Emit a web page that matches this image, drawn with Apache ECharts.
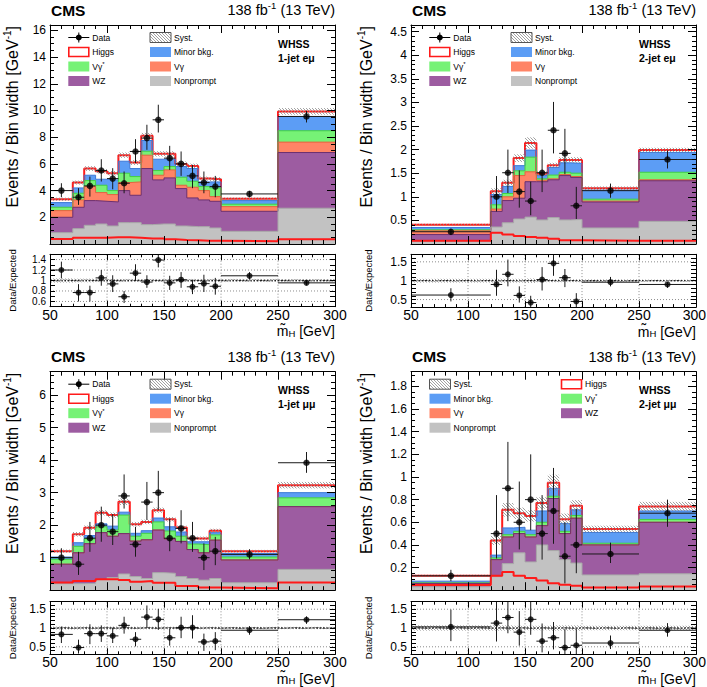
<!DOCTYPE html>
<html><head><meta charset="utf-8">
<script src="https://cdn.jsdelivr.net/npm/echarts@6/dist/echarts.min.js"></script>
<style>html,body{margin:0;padding:0;background:#fff}#c{width:707px;height:687px}</style>
</head><body><div id="c"></div>
<script>
// ---------------- DATA ----------------
const edges1j = [50,70,80,90,100,110,120,130,140,150,160,170,180,190,200,250,300];
const edges2j = [50,120,130,140,150,160,170,180,190,200,250,300];
const xGridLines = [100,150,200,250];

// Panel A: 1-jet e mu
const nonpromptA = [0.85,1.15,1.4,1.5,1.35,1.6,1.6,1.45,1.5,1.5,1.35,1.3,1.3,1.2,0.95,2.68];
const wzA        = [1.15,1.6,1.85,1.7,1.8,2.4,2.05,4.2,3.3,3.45,2.8,2.15,2.0,2.0,1.5,4.17];
const vgA        = [0.5,0.55,1.05,0.65,0.55,0.6,1.0,1.0,0.35,0.6,0.25,0.8,0.7,0.35,0.35,0.78];
const vgsA       = [0.25,0.5,0.45,0.55,0.3,0.7,0.4,0.3,0.35,0.25,0.6,0.45,0.3,0.65,0.18,0.85];
const minorA     = [0.35,0.4,0.4,0.45,0.8,0.9,0.6,0.8,0.85,0.55,0.8,0.95,0.35,0.45,0.27,1.07];
const higgsA     = [0.25,0.4,0.5,0.6,0.5,0.45,0.45,0.35,0.4,0.4,0.2,0.2,0.25,0.2,0.13,0.38];
const higgsLineA = [0.37,0.47,0.47,0.47,0.5,0.5,0.47,0.42,0.42,0.35,0.3,0.28,0.25,0.25,0.2,0.35];
const systA      = [0.12,0.15,0.18,0.17,0.17,0.2,0.18,0.22,0.2,0.2,0.18,0.17,0.15,0.15,0.1,0.25];
const dataA      = [4.0,3.5,4.35,5.5,4.9,4.55,6.93,7.93,9.3,6.43,6.0,5.1,4.6,4.3,3.75,9.55];
const dataHiA    = [4.55,4.18,5.05,6.35,5.68,5.43,7.85,8.93,10.43,7.35,6.93,5.93,5.43,5.1,3.98,9.98];
const dataLoA    = [3.5,2.93,3.55,4.68,4.1,3.8,6.05,7.05,8.35,5.55,5.1,4.18,3.8,3.5,3.5,9.1];
const ratioA     = [1.2,0.77,0.77,1.05,0.935,0.69,1.14,0.97,1.39,0.955,1.015,0.88,0.94,0.89,1.09,0.955];
const ratioHiA   = [1.36,0.93,0.9,1.2,1.1,0.8,1.31,1.1,1.54,1.09,1.16,1.01,1.11,1.05,1.16,1.0];
const ratioLoA   = [1.04,0.6,0.6,0.9,0.78,0.57,0.99,0.86,1.25,0.82,0.86,0.74,0.78,0.73,1.02,0.91];
const ratioSystA = [0.04,0.035,0.035,0.03,0.03,0.03,0.03,0.03,0.03,0.03,0.03,0.03,0.03,0.03,0.03,0.025];
const ratioGridA = [0.6,0.8,1.0,1.2,1.4];

// Panel B: 2-jet e mu
const nonpromptB = [0.06,0.36,0.45,0.53,0.57,0.51,0.56,0.51,0.52,0.34,0.48];
const wzB        = [0.14,0.33,0.47,0.44,0.75,0.81,0.8,0.94,0.89,0.55,0.86];
const vgB        = [0.08,0.05,0.08,0.48,0.21,0.03,0.02,0.02,0.02,0.02,0.02];
const vgsB       = [0.02,0.09,0.07,0.1,0.31,0.03,0.08,0.05,0.07,0.04,0.16];
const minorB     = [0.05,0.22,0.15,0.11,0.15,0.07,0.16,0.2,0.21,0.19,0.42];
const higgsB     = [0.06,0.07,0.08,0.16,0.15,0.04,0.05,0.06,0.07,0.04,0.05];
const higgsLineB = [0.07,0.24,0.2,0.17,0.15,0.13,0.11,0.08,0.08,0.07,0.07];
const systB      = [0.02,0.06,0.06,0.08,0.12,0.05,0.05,0.06,0.06,0.04,0.05];
const dataB      = [0.26,1.0,1.51,1.11,0.91,1.51,2.41,1.92,0.81,1.13,1.79];
const dataHiB    = [0.32,1.44,2.0,1.56,1.32,2.0,3.01,2.44,1.21,1.28,1.98];
const dataLoB    = [0.19,0.69,1.08,0.77,0.61,1.1,1.92,1.48,0.53,0.98,1.6];
const ratioB     = [0.62,0.9,1.17,0.61,0.42,1.03,1.46,1.08,0.45,0.96,0.9];
const ratioHiB   = [0.8,1.29,1.56,0.85,0.6,1.36,1.69,1.31,0.67,1.1,0.96];
const ratioLoB   = [0.45,0.6,0.85,0.42,0.3,0.74,1.13,0.83,0.3,0.85,0.81];
const ratioSystB = [0.05,0.05,0.05,0.05,0.06,0.04,0.04,0.04,0.04,0.035,0.03];
const ratioGridB = [0.5,1.0,1.5];

// Panel C: 1-jet mu mu
const nonpromptC = [0.2,0.2,0.21,0.33,0.39,0.5,0.42,0.36,0.54,0.52,0.42,0.36,0.31,0.36,0.23,0.64];
const wzC        = [0.6,0.95,1.22,1.44,1.27,1.24,1.09,1.19,1.31,1.06,1.08,0.89,0.84,1.18,0.7,1.93];
const vgC        = [0,0,0,0,0,0,0,0,0,0,0,0,0,0,0,0];
const vgsC       = [0.15,0.2,0.15,0.18,0.19,0.57,0.15,0.2,0.25,0.24,0.16,0.17,0.25,0.16,0.09,0.27];
const minorC     = [0.07,0.11,0.1,0.09,0.12,0.09,0.09,0.08,0.12,0.13,0.13,0.07,0.09,0.07,0.11,0.16];
const higgsC     = [0.18,0.26,0.24,0.34,0.34,0.32,0.28,0.27,0.24,0.23,0.14,0.1,0.1,0.06,0.07,0.23];
const higgsLineC = [0.24,0.28,0.28,0.34,0.34,0.31,0.26,0.28,0.23,0.23,0.13,0.13,0.08,0.08,0.06,0.24];
const systC      = [0.05,0.07,0.07,0.08,0.08,0.1,0.07,0.07,0.08,0.07,0.06,0.06,0.06,0.06,0.04,0.1];
const dataC      = [1.0,0.8,1.6,2.0,1.8,2.9,1.41,2.71,3.0,1.6,1.9,1.6,1.0,1.2,1.1,3.92];
const dataHiC    = [1.29,1.18,2.1,2.57,2.34,3.56,1.95,3.33,3.67,2.2,2.46,2.1,1.44,1.64,1.26,4.25];
const dataLoC    = [0.72,0.47,1.18,1.49,1.39,2.51,1.03,2.16,2.47,1.2,1.44,1.18,0.62,0.77,0.95,3.61];
const ratioC     = [0.83,0.48,0.85,0.85,0.79,1.07,0.7,1.29,1.23,0.74,1.01,1.01,0.63,0.65,0.94,1.22];
const ratioHiC   = [1.04,0.69,1.1,1.07,1.01,1.3,0.89,1.6,1.51,0.98,1.3,1.34,0.85,0.89,1.05,1.31];
const ratioLoC   = [0.6,0.32,0.57,0.63,0.6,0.85,0.51,1.0,0.95,0.53,0.73,0.72,0.39,0.41,0.82,1.11];
const ratioSystC = [0.04,0.04,0.04,0.04,0.04,0.04,0.035,0.035,0.035,0.035,0.035,0.035,0.035,0.035,0.03,0.03];
const ratioGridC = [0.5,1.0,1.5];

// Panel D: 2-jet mu mu
const nonpromptD = [0.03,0.12,0.235,0.33,0.25,0.4,0.35,0.27,0.24,0.135,0.145];
const wzD        = [0.03,0.15,0.235,0.17,0.22,0.17,0.46,0.23,0.396,0.265,0.455];
const vgD        = [0,0,0,0,0,0,0,0,0,0,0];
const vgsD       = [0.005,0.015,0.02,0.02,0.02,0.03,0.02,0.02,0.024,0.015,0.025];
const minorD     = [0.015,0.025,0.06,0.036,0.04,0.1,0.07,0.07,0.05,0.095,0.075];
const higgsD     = [0.047,0.13,0.16,0.124,0.126,0.07,0.05,0.037,0.035,0.03,0.04];
const higgsLineD = [0.045,0.127,0.16,0.127,0.107,0.085,0.062,0.048,0.04,0.024,0.033];
const systD      = [0.01,0.04,0.06,0.05,0.05,0.05,0.07,0.05,0.05,0.03,0.04];
const dataD      = [0.127,0.5,0.9,0.6,0.8,0.5,0.7,0.3,0.4,0.32,0.68];
const dataHiD    = [0.18,0.84,1.31,0.96,1.2,0.84,1.08,0.6,0.72,0.42,0.8];
const dataLoD    = [0.08,0.28,0.61,0.36,0.53,0.27,0.41,0.06,0.15,0.24,0.56];
const ratioD     = [1.03,1.13,1.28,0.89,1.23,0.65,0.74,0.48,0.54,0.6,0.94];
const ratioHiD   = [1.49,1.9,1.86,1.45,1.84,1.12,1.16,0.97,0.97,0.8,1.13];
const ratioLoD   = [0.65,0.64,0.86,0.53,0.82,0.35,0.43,0.1,0.2,0.44,0.77];
const ratioSystD = [0.07,0.07,0.07,0.06,0.06,0.06,0.07,0.07,0.07,0.06,0.06];
const ratioGridD = [0.5,1.0,1.5];

// legend labels
const legendStd = [['data','Data'],['higgs','Higgs'],['vgs','{a|V\u03b3}{s|*}'],['wz','WZ'],
                   ['syst','Syst.'],['minor','Minor bkg.'],['vg','V\u03b3'],['nonprompt','Nonprompt']];
const legendD   = [['syst','Syst.'],['minor','Minor bkg.'],['vg','V\u03b3'],['nonprompt','Nonprompt'],
                   ['higgs','Higgs'],['vgs','{a|V\u03b3}{s|*}'],['wz','WZ']];

// ---------------- STYLE ----------------
const FONT = "'Liberation Sans', Arial, Helvetica, sans-serif";
const COMP = ['nonprompt','wz','vg','vgs','minor','higgs'];
const FILL = {nonprompt:'#c2c2c2', wz:'#9d5ca1', vg:'#ff8466', vgs:'#76f276', minor:'#5c9df5', higgs:'#ffffff'};
const EDGE = {nonprompt:'#a8a8a8', wz:'#6c3070', vg:'#e2643f', vgs:'#43d043', minor:'#3c78d6', higgs:'#ff1a1a'};

const panels = [
 {left:50, top:25, h:219, rTop:254.3, rH:52.4, ytx:12, rtx:12, edges:edges1j, ymax:16.4, yStep:2, yMinor:4,
  rMin:0.5, rMax:1.5, rStep:0.2, rLab:[0.6,1.4], rGrid:ratioGridA, rFs:10, right:false,
  comps:[nonpromptA,wzA,vgA,vgsA,minorA,higgsA], hLine:higgsLineA, syst:systA, data:dataA, hi:dataHiA, lo:dataLoA,
  ratio:ratioA, rHi:ratioHiA, rLo:ratioLoA, rSyst:ratioSystA, tag:['WHSS','1-jet e\u03bc'], leg:legendStd, legCols:[18.3,100]},
 {left:411, top:25, h:219, rTop:254.3, rH:52.8, ytx:366, rtx:368, edges:edges2j, ymax:4.64, yStep:0.5, yMinor:5,
  rMin:0.3, rMax:1.7, rStep:0.5, rLab:[0.5,1.5], rGrid:ratioGridB, rFs:12, right:true,
  comps:[nonpromptB,wzB,vgB,vgsB,minorB,higgsB], hLine:higgsLineB, syst:systB, data:dataB, hi:dataHiB, lo:dataLoB,
  ratio:ratioB, rHi:ratioHiB, rLo:ratioLoB, rSyst:ratioSystB, tag:['WHSS','2-jet e\u03bc'], leg:legendStd, legCols:[18.3,100]},
 {left:50, top:371.7, h:218.5, rTop:601.7, rH:52.6, ytx:12, rtx:12, edges:edges1j, ymax:6.72, yStep:1, yMinor:5,
  rMin:0.3, rMax:1.7, rStep:0.5, rLab:[0.5,1.5], rGrid:ratioGridC, rFs:12, right:false,
  comps:[nonpromptC,wzC,vgC,vgsC,minorC,higgsC], hLine:higgsLineC, syst:systC, data:dataC, hi:dataHiC, lo:dataLoC,
  ratio:ratioC, rHi:ratioHiC, rLo:ratioLoC, rSyst:ratioSystC, tag:['WHSS','1-jet \u03bc\u03bc'], leg:legendStd, legCols:[18.3,100]},
 {left:411, top:371.7, h:218.5, rTop:601.7, rH:52.6, ytx:366, rtx:368, edges:edges2j, ymax:1.93, yStep:0.2, yMinor:4,
  rMin:0.3, rMax:1.7, rStep:0.5, rLab:[0.5,1.5], rGrid:ratioGridD, rFs:12, right:true,
  comps:[nonpromptD,wzD,vgD,vgsD,minorD,higgsD], hLine:higgsLineD, syst:systD, data:dataD, hi:dataHiD, lo:dataLoD,
  ratio:ratioD, rHi:ratioHiD, rLo:ratioLoD, rSyst:ratioSystD, tag:['WHSS','2-jet \u03bc\u03bc'], leg:legendD, legCols:[18.5,150]}
];

// ---------------- HELPERS ----------------
function hatchSegs(x0,y0,x1,y1,sp){
  if (x1<x0){const t=x0;x0=x1;x1=t;} if (y1<y0){const t=y0;y0=y1;y1=t;}
  const segs=[]; const cMin=Math.floor((x0-y1)/sp)*sp, cMax=x1-y0;
  for (let c=cMin;c<=cMax;c+=sp){
    const xa=Math.max(x0,y0+c), xb=Math.min(x1,y1+c);
    if (xb-xa>0.3) segs.push([xa,xa-c,xb,xb-c]);
  }
  return segs;
}
function segsPath(segs){
  let d=''; segs.forEach(s=>{d+='M'+s[0].toFixed(2)+' '+s[1].toFixed(2)+'L'+s[2].toFixed(2)+' '+s[3].toFixed(2);});
  return d||'M0 0';
}
function fmt(step,lo,hi){
  return function(v){
    const k=v/step; if (Math.abs(k-Math.round(k))>1e-6) return '';
    if (v<lo-1e-9||v>hi+1e-9) return '';
    return String(parseFloat(v.toFixed(3)));
  };
}
const XFS=14;
function xAx(gi,pos,labels,tl,hide300){
  return {type:'value', gridIndex:gi, position:pos, min:50, max:300, interval:50, z:10,
    axisLine:{show:true,onZero:false,lineStyle:{color:'#000',width:1}},
    axisTick:{show:true,inside:true,length:tl,lineStyle:{color:'#000',width:1}},
    minorTick:{show:true,splitNumber:5,length:tl/2,lineStyle:{color:'#000',width:1}},
    axisLabel:{show:labels,color:'#000',fontSize:XFS,lineHeight:14,fontFamily:FONT,margin:1,showMinLabel:true,showMaxLabel:true,
      formatter:function(v){ return (hide300 && v===300) ? '' : String(v); }},
    splitLine:{show:false}, minorSplitLine:{show:false}};
}
function yAx(gi,pos,o){
  return {type:'value', gridIndex:gi, position:pos, min:o.min, max:o.max, interval:o.interval, z:10,
    axisLine:{show:true,onZero:false,lineStyle:{color:'#000',width:1}},
    axisTick:{show:true,inside:true,length:o.tl,lineStyle:{color:'#000',width:1}},
    minorTick:{show:!!o.minor,splitNumber:o.minor||5,length:o.tl/2,lineStyle:{color:'#000',width:1}},
    axisLabel:{show:o.labels,color:'#000',fontSize:o.fs,fontFamily:FONT,margin:4,
      formatter:fmt(o.labStep,o.labLo,o.labHi),showMinLabel:true,showMaxLabel:true},
    splitLine:{show:false}, minorSplitLine:{show:false}};
}
function stepData(edges,vals){ return edges.map((e,i)=>[e, vals[Math.min(i,vals.length-1)]]); }

function errRender(params, api){
  const xc=api.value(0), v=api.value(1), lo=api.value(2), hi=api.value(3), x0=api.value(4), x1=api.value(5);
  const a=api.coord([xc,lo]), b=api.coord([xc,hi]), c=api.coord([x0,v]), d=api.coord([x1,v]);
  return {type:'path', shape:{pathData:'M'+a[0]+' '+a[1]+'L'+b[0]+' '+b[1]+'M'+c[0]+' '+c[1]+'L'+d[0]+' '+d[1]},
    style:{stroke:'#1a1a1a',lineWidth:1,fill:'none'}};
}
function hatchRender(params, api){
  const a=api.coord([api.value(0),api.value(3)]), b=api.coord([api.value(1),api.value(2)]);
  return {type:'path', shape:{pathData:segsPath(hatchSegs(a[0],a[1],b[0],b[1],3))},
    style:{stroke:'#8a8a8a',lineWidth:0.8,fill:'none'}};
}

const grid=[], xAxis=[], yAxis=[], series=[], graphic=[];
const GZ=100;

panels.forEach((P,p)=>{
  const nb=P.edges.length-1;
  const gM=grid.length; grid.push({left:P.left,top:P.top,width:285,height:P.h,containLabel:false,outerBoundsMode:'none'});
  const gR=grid.length; grid.push({left:P.left,top:P.rTop,width:285,height:P.rH,containLabel:false,outerBoundsMode:'none'});
  const xM=xAxis.length; xAxis.push(xAx(gM,'bottom',false,8,false), xAx(gM,'top',false,8,false));
  const xR=xAxis.length; xAxis.push(xAx(gR,'bottom',true,6,P.right), xAx(gR,'top',false,6,false));
  const yMo={min:0,max:P.ymax,interval:P.yStep,minor:P.yMinor,tl:8,fs:12,labStep:P.yStep,labLo:P.yStep,labHi:P.ymax};
  const yM=yAxis.length; yAxis.push(yAx(gM,'left',Object.assign({labels:true},yMo)), yAx(gM,'right',Object.assign({labels:false},yMo)));
  const yRo={min:P.rMin,max:P.rMax,interval:0.1,minor:0,tl:5,fs:P.rFs,labStep:P.rStep,labLo:P.rLab[0],labHi:P.rLab[1]};
  const yR=yAxis.length; yAxis.push(yAx(gR,'left',Object.assign({labels:true},yRo)), yAx(gR,'right',Object.assign({labels:false},yRo)));

  // stack: cumulative sums, drawn from the top-most sum down (each filled to zero)
  const cum=[]; let run=P.comps[0].map(()=>0);
  P.comps.forEach(arr=>{ run=run.map((r,i)=>r+arr[i]); cum.push(run); });
  for (let ci=COMP.length-1; ci>=0; ci--){
    const c=COMP[ci];
    series.push({type:'line', name:c, xAxisIndex:xM, yAxisIndex:yM, step:'end',
      symbol:'none', showSymbol:false, silent:true, animation:false, z:2,
      data:stepData(P.edges,cum[ci]),
      lineStyle:{color:EDGE[c], width:c==='higgs'?2:1},
      areaStyle:{color:FILL[c], opacity:1, origin:'start'}});
  }
  const tot=cum[cum.length-1];
  series.push({type:'custom', xAxisIndex:xM, yAxisIndex:yM, clip:true, z:3, silent:true, animation:false,
    data:P.syst.map((s,i)=>[P.edges[i],P.edges[i+1],tot[i]-s,tot[i]+s]), renderItem:hatchRender});
  series.push({type:'line', xAxisIndex:xM, yAxisIndex:yM, step:'end', symbol:'none', showSymbol:false, silent:true,
    animation:false, z:4, data:stepData(P.edges,P.hLine), lineStyle:{color:'#ff1a1a',width:2}});
  series.push({type:'custom', xAxisIndex:xM, yAxisIndex:yM, clip:true, z:5, silent:true, animation:false,
    data:P.data.map((v,i)=>[(P.edges[i]+P.edges[i+1])/2, v, P.lo[i], P.hi[i], P.edges[i], P.edges[i+1]]),
    renderItem:errRender});
  series.push({type:'scatter', xAxisIndex:xM, yAxisIndex:yM, z:6, silent:true, animation:false, symbol:'circle', symbolSize:6.5,
    itemStyle:{color:'#000'}, data:P.data.map((v,i)=>[(P.edges[i]+P.edges[i+1])/2, v])});

  // ratio panel
  const gl=P.rGrid.map(v=>[0,v]).concat(xGridLines.map(v=>[1,v])).concat([[2,1]]);
  series.push({type:'custom', xAxisIndex:xR, yAxisIndex:yR, clip:true, z:1, silent:true, animation:false,
    data:gl, renderItem:function(params,api){
      const k=api.value(0), v=api.value(1); let a,b,st;
      if (k===1){ a=api.coord([v,P.rMin]); b=api.coord([v,P.rMax]); st={stroke:'#8c8c8c',lineWidth:1,lineDash:[1,2],fill:'none'}; }
      else if (k===0){ a=api.coord([50,v]); b=api.coord([300,v]); st={stroke:'#8c8c8c',lineWidth:1,lineDash:[1,2],fill:'none'}; }
      else { a=api.coord([50,v]); b=api.coord([300,v]); st={stroke:'#222',lineWidth:1.3,lineDash:[2,1.5],fill:'none'}; }
      return {type:'line', shape:{x1:a[0],y1:a[1],x2:b[0],y2:b[1]}, style:st};
    }});
  series.push({type:'custom', xAxisIndex:xR, yAxisIndex:yR, clip:true, z:3, silent:true, animation:false,
    data:P.rSyst.map((s,i)=>[P.edges[i],P.edges[i+1],1-s,1+s]), renderItem:hatchRender});
  series.push({type:'custom', xAxisIndex:xR, yAxisIndex:yR, clip:true, z:5, silent:true, animation:false,
    data:P.ratio.map((v,i)=>[(P.edges[i]+P.edges[i+1])/2, v, P.rLo[i], P.rHi[i], P.edges[i], P.edges[i+1]]),
    renderItem:errRender});
  series.push({type:'scatter', xAxisIndex:xR, yAxisIndex:yR, z:6, silent:true, animation:false, symbol:'circle', symbolSize:6,
    itemStyle:{color:'#000'}, data:P.ratio.map((v,i)=>[(P.edges[i]+P.edges[i+1])/2, v])});

  // ---------- texts ----------
  const R=P.left+285, B=P.rTop+P.rH;
  if (P.right){
    graphic.push({type:'text', z:GZ, x:706, y:B+1, silent:true,
      style:{text:'300', fontSize:XFS, lineHeight:14, fontFamily:FONT, fill:'#000', align:'right', verticalAlign:'top', textAlign:'right', textVerticalAlign:'top'}});
  }
  graphic.push({type:'text', z:GZ, x:P.left+1, y:P.top-15, silent:true,
    style:{text:'CMS', fontSize:15.5, fontWeight:'bold', fontFamily:FONT, fill:'#000', align:'left', verticalAlign:'middle', textAlign:'left', textVerticalAlign:'middle'}});
  graphic.push({type:'text', z:GZ, x:R, y:P.top-15, silent:true,
    style:{text:'{a|138 fb}{s|-1}{a| (13 TeV)}', fill:'#000', align:'right', verticalAlign:'middle', textAlign:'right', textVerticalAlign:'middle',
      rich:{a:{fontSize:14.5,fontFamily:FONT,lineHeight:19,fill:'#000'}, s:{fontSize:9.5,fontFamily:FONT,lineHeight:10,verticalAlign:'top',fill:'#000'}}}});
  graphic.push({type:'text', z:GZ, x:P.ytx, y:P.top+1, rotation:Math.PI/2, silent:true,
    style:{text:'{a|Events / Bin width [GeV}{s|-1}{a|]}', fill:'#000', align:'right', verticalAlign:'middle', textAlign:'right', textVerticalAlign:'middle',
      rich:{a:{fontSize:16,fontFamily:FONT,lineHeight:20,fill:'#000'}, s:{fontSize:10,fontFamily:FONT,lineHeight:10,verticalAlign:'top',fill:'#000'}}}});
  graphic.push({type:'text', z:GZ, x:P.rtx, y:P.rTop+P.rH/2, rotation:Math.PI/2, silent:true,
    style:{text:'Data/Expected', fontSize:9.5, fontFamily:FONT, fill:'#000', align:'center', verticalAlign:'middle', textAlign:'center', textVerticalAlign:'middle'}});
  graphic.push({type:'text', z:GZ, x:R, y:B+24.5, silent:true,
    style:{text:'{a|m\u0303}{b|H}{a| [GeV]}', fill:'#000', align:'right', verticalAlign:'middle', textAlign:'right', textVerticalAlign:'middle',
      rich:{a:{fontSize:14,fontFamily:FONT,lineHeight:14,fill:'#000'}, b:{fontSize:9.5,fontFamily:FONT,lineHeight:8,verticalAlign:'bottom',fill:'#000'}}}});
  graphic.push({type:'text', z:GZ, x:P.left+228, y:P.top+18.5, silent:true,
    style:{text:P.tag[0], fontSize:10.5, fontWeight:'bold', fontFamily:FONT, fill:'#000', align:'left', verticalAlign:'middle', textAlign:'left', textVerticalAlign:'middle'}});
  graphic.push({type:'text', z:GZ, x:P.left+228, y:P.top+32.5, silent:true,
    style:{text:P.tag[1], fontSize:10.5, fontWeight:'bold', fontFamily:FONT, fill:'#000', align:'left', verticalAlign:'middle', textAlign:'left', textVerticalAlign:'middle'}});

  // ---------- legend ----------
  P.leg.forEach((e,j)=>{
    const col=j<4?0:1, row=j<4?j:j-4;
    const bx=P.left+P.legCols[col], cy=P.top+12.5+14.5*row, bw=21, bh=10;
    const kind=e[0];
    if (kind==='data'){
      graphic.push({type:'line', z:GZ, silent:true, shape:{x1:bx,y1:cy,x2:bx+bw,y2:cy}, style:{stroke:'#000',lineWidth:1}});
      graphic.push({type:'line', z:GZ, silent:true, shape:{x1:bx+bw/2,y1:cy-5,x2:bx+bw/2,y2:cy+5}, style:{stroke:'#000',lineWidth:1}});
      graphic.push({type:'circle', z:GZ, silent:true, shape:{cx:bx+bw/2,cy:cy,r:3}, style:{fill:'#000'}});
    } else if (kind==='syst'){
      hatchSegs(bx,cy-bh/2,bx+bw,cy+bh/2,3).forEach(s=>{
        graphic.push({type:'line', z:GZ, silent:true, shape:{x1:s[0],y1:s[1],x2:s[2],y2:s[3]}, style:{stroke:'#8a8a8a',lineWidth:0.8}});
      });
      graphic.push({type:'rect', z:GZ, silent:true, shape:{x:bx,y:cy-bh/2,width:bw,height:bh}, style:{fill:'none',stroke:'#555',lineWidth:1}});
    } else if (kind==='higgs'){
      graphic.push({type:'rect', z:GZ, silent:true, shape:{x:bx+0.5,y:cy-bh/2+0.5,width:bw-1,height:bh-1}, style:{fill:'#fff',stroke:'#ff1a1a',lineWidth:1.6}});
    } else {
      graphic.push({type:'rect', z:GZ, silent:true, shape:{x:bx,y:cy-bh/2,width:bw,height:bh}, style:{fill:FILL[kind],stroke:null}});
    }
    graphic.push({type:'text', z:GZ, x:bx+bw+3, y:cy, silent:true,
      style:{text:e[1], fontSize:8.5, fontFamily:FONT, fill:'#000', align:'left', verticalAlign:'middle', textAlign:'left', textVerticalAlign:'middle',
        rich:{a:{fontSize:8.5,fontFamily:FONT,lineHeight:11,fill:'#000'}, s:{fontSize:6,fontFamily:FONT,lineHeight:6,verticalAlign:'top',fill:'#000'}}}});
  });
});

const chart=echarts.init(document.getElementById('c'),null,{renderer:'svg',width:707,height:687});
chart.setOption({animation:false, backgroundColor:'#fff', grid, xAxis, yAxis, series, graphic});
</script>
</body></html>
